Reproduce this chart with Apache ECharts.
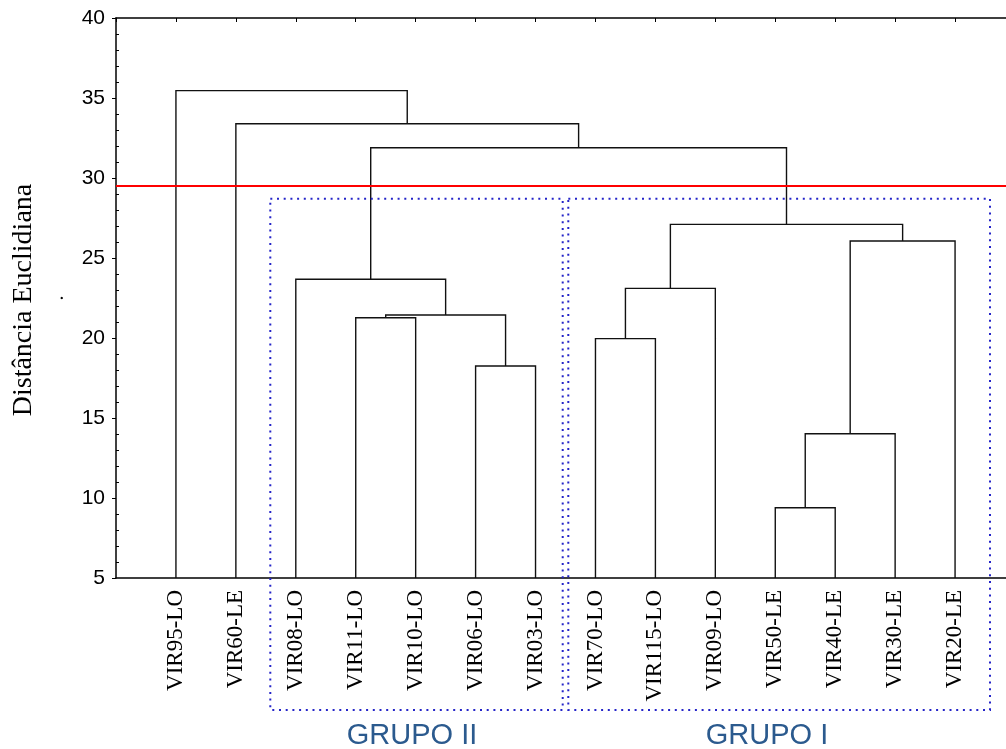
<!DOCTYPE html>
<html>
<head>
<meta charset="utf-8">
<script src="https://cdn.jsdelivr.net/npm/echarts@6/dist/echarts.min.js"></script>
<style>html,body{margin:0;padding:0;background:#fff;}#c{width:1006px;height:749px;}</style>
</head>
<body>
<div id="c"></div>
<script>
// ---- data ----
const leaves = ['VIR95-LO','VIR60-LE','VIR08-LO','VIR11-LO','VIR10-LO','VIR06-LO','VIR03-LO',
                'VIR70-LO','VIR115-LO','VIR09-LO','VIR50-LE','VIR40-LE','VIR30-LE','VIR20-LE'];
// merges: node ids 0..13 are leaves, 14+k is the k-th merge
const mergeA      = [5,  3,  15, 2,  10,   18,  7,  20,  19,  21,  17, 1,  0];
const mergeB      = [6,  4,  14, 16, 11,   12,  8,  9,   13,  22,  23, 24, 25];
const mergeHeight = [18.25, 21.27, 21.44, 23.67, 9.39, 14.02, 19.96, 23.1, 26.06, 27.1, 31.89, 33.39, 35.46];
const cutHeight = 29.5;
const yMin = 5, yMax = 40, yStep = 5;
const groupLabels = ['GRUPO II', 'GRUPO I'];

// ---- build dendrogram links ----
const nodeX = [], nodeY = [];
leaves.forEach((n, i) => { nodeX.push(i + 1); nodeY.push(yMin); });
const links = [];
mergeHeight.forEach((h, k) => {
  const a = mergeA[k], b = mergeB[k];
  links.push({ coords: [[nodeX[a], nodeY[a]], [nodeX[a], h], [nodeX[b], h], [nodeX[b], nodeY[b]]] });
  nodeX.push((nodeX[a] + nodeX[b]) / 2);
  nodeY.push(h);
});

const chart = echarts.init(document.getElementById('c'), null, { renderer: 'canvas' });
const boxStyle = { stroke: '#2424c8', lineWidth: 2, lineDash: [2, 4.7], fill: 'none' };
chart.setOption({
  animation: false,
  backgroundColor: '#fff',
  grid: { left: 116, top: 18, width: 899, height: 560, outerBoundsMode: 'none', containLabel: false },
  xAxis: [{
    type: 'value', min: 0, max: leaves.length + 1, interval: 1, position: 'bottom',
    axisLine: { lineStyle: { color: '#000', width: 1.5 } },
    axisTick: { show: false },
    splitLine: { show: false },
    axisLabel: {
      rotate: 90, margin: 12, color: '#000', fontFamily: 'Liberation Serif', fontSize: 23,
      formatter: v => (v >= 1 && v <= leaves.length && Number.isInteger(v)) ? leaves[v - 1] : ''
    }
  }, {
    type: 'value', min: 0, max: leaves.length + 1, interval: 1, position: 'top',
    axisLine: { lineStyle: { color: '#000', width: 1.5 } },
    axisTick: { inside: true, length: 4, lineStyle: { color: '#000' } },
    axisLabel: { show: false },
    splitLine: { show: false }
  }],
  yAxis: {
    type: 'value', min: yMin, max: yMax, interval: yStep,
    axisLine: { show: true, lineStyle: { color: '#000', width: 1.5 } },
    axisTick: { show: true, length: 4, lineStyle: { color: '#000' } },
    minorTick: { show: true, splitNumber: 5, length: -3, lineStyle: { color: '#000' } },
    splitLine: { show: false },
    axisLabel: { color: '#000', fontFamily: 'Liberation Sans', fontSize: 21, margin: 11 }
  },
  series: [{
    type: 'lines', coordinateSystem: 'cartesian2d', polyline: true,
    lineStyle: { color: '#111', width: 1.4, opacity: 1 },
    data: links, silent: true, z: 3
  }, {
    type: 'line', data: [[0, cutHeight], [leaves.length + 1, cutHeight]],
    symbol: 'none', lineStyle: { color: '#ff0000', width: 2 }, silent: true, z: 4
  }],
  graphic: [
    { type: 'rect', shape: { x: 270.3, y: 198.7, width: 292.4, height: 511.3 }, style: boxStyle, z: 10 },
    { type: 'rect', shape: { x: 568.3, y: 198.7, width: 421.7, height: 511.3 }, style: boxStyle, z: 10 },
    { type: 'text', x: 412, y: 736, style: { text: groupLabels[0], font: '29px "Liberation Sans"', fill: '#2b5a8e', align: 'center', verticalAlign: 'middle' } },
    { type: 'text', x: 767, y: 736, style: { text: groupLabels[1], font: '29px "Liberation Sans"', fill: '#2b5a8e', align: 'center', verticalAlign: 'middle' } },
    { type: 'text', x: 24, y: 300, rotation: Math.PI / 2, style: { text: 'Distância Euclidiana', font: '28px "Liberation Serif"', fill: '#000', align: 'center', verticalAlign: 'middle' } },
    { type: 'text', x: 58, y: 298, rotation: Math.PI / 2, style: { text: '.', font: '20px "Liberation Serif"', fill: '#000', align: 'center', verticalAlign: 'middle' } }
  ]
});
</script>
</body>
</html>
